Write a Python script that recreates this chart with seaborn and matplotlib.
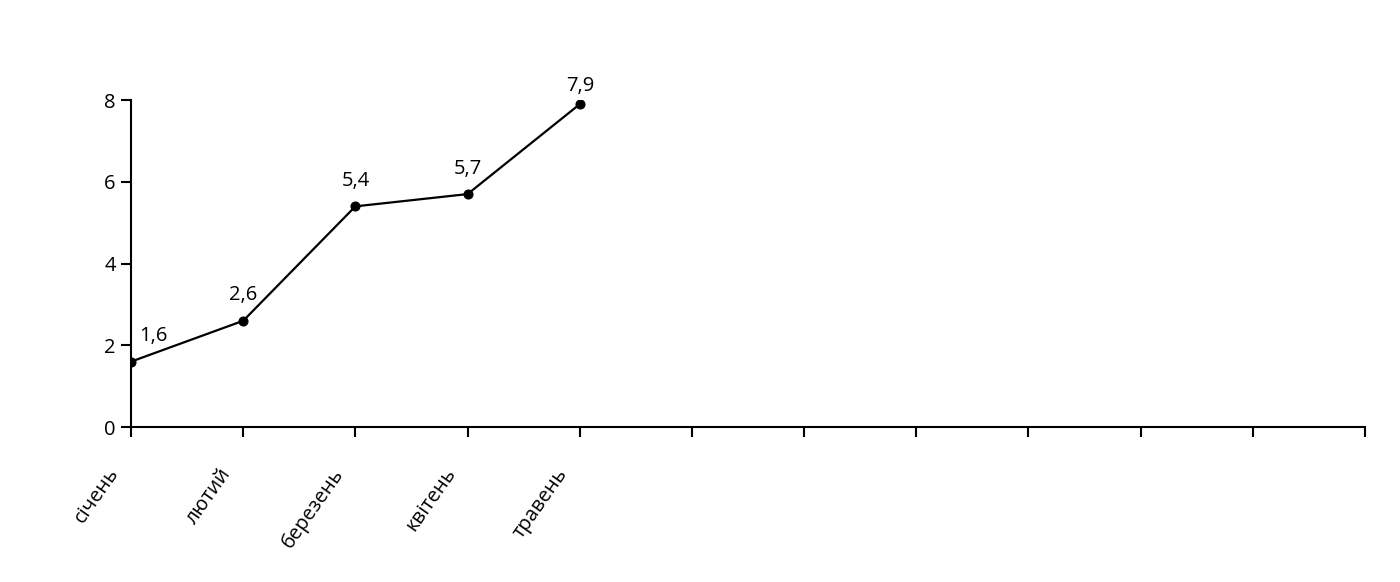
import numpy as np
import pandas as pd
import seaborn as sns
import matplotlib.pyplot as plt
import matplotlib.transforms as mtransforms

# Data
months = ["січень", "лютий", "березень", "квітень", "травень"]
values = [1.6, 2.6, 5.4, 5.7, 7.9]
value_labels = ["1,6", "2,6", "5,4", "5,7", "7,9"]
n_slots = 12  # the axis has room for a full year

df = pd.DataFrame({"pos": np.arange(len(months)), "value": values})

sns.set_theme(style="white")
plt.rcParams['font.family'] = ['Open Sans', 'DejaVu Sans']
plt.rcParams['text.color'] = 'black'

fig = plt.figure(figsize=(14, 5.82), dpi=100)
ax = fig.add_axes([0.0936, 0.2663, 0.975 - 0.0936, 0.828 - 0.2663])

sns.lineplot(data=df, x="pos", y="value", ax=ax, color="black", linewidth=1.6,
             marker="o", markersize=6.5, markeredgecolor="black")

# data labels; first one sits to the right, the top one is squeezed down
for i, (v, lab) in enumerate(zip(values, value_labels)):
    dx = 16 if i == 0 else 0
    dy = 6 if i == len(values) - 1 else 11
    ax.annotate(lab, (i, v), xytext=(dx, dy), textcoords="offset points",
                ha="center", va="bottom", fontsize=14.5, color="black")

ax.set_xlim(0, n_slots - 1)
ax.set_ylim(0, 8)
ax.set_yticks([0, 2, 4, 6, 8])
ax.set_xticks(np.arange(n_slots))
ax.set_xticklabels(months + [""] * (n_slots - len(months)),
                   rotation=55, ha="right", va="center", rotation_mode="anchor")
ax.set_xlabel("")
ax.set_ylabel("")

for side in ["top", "right"]:
    ax.spines[side].set_visible(False)
for side in ["left", "bottom"]:
    ax.spines[side].set_color("black")
    ax.spines[side].set_linewidth(1.5)

ax.tick_params(axis="both", which="major", direction="out", length=7, width=1.5,
               color="black", labelsize=14.5, labelcolor="black")
ax.tick_params(axis="x", pad=24)
ax.tick_params(axis="y", pad=4)
ax.yaxis.set_ticks_position("left")
ax.xaxis.set_ticks_position("bottom")

# shift the month labels a bit to the left, as in the reference
shift = mtransforms.ScaledTranslation(-16 / 100, 0, fig.dpi_scale_trans)
for lbl in ax.get_xticklabels():
    lbl.set_transform(lbl.get_transform() + shift)

plt.savefig("out.png", dpi=100)
